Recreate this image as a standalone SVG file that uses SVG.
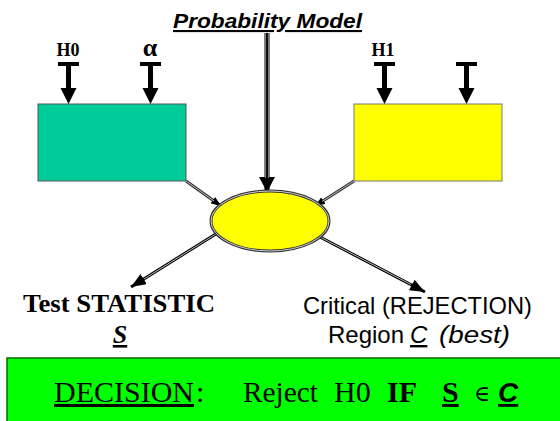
<svg xmlns="http://www.w3.org/2000/svg" width="560" height="421" viewBox="0 0 560 421">
<style>
.serif{font-family:"Liberation Serif","Times New Roman",serif}
.sans{font-family:"Liberation Sans",Arial,sans-serif}
.b{font-weight:bold}
.i{font-style:italic}
.u{text-decoration:underline}
.out{fill:none;stroke:#000;stroke-width:3}
.in{fill:none;stroke:#bbb;stroke-width:1}
.thin{fill:none;stroke:#333;stroke-width:3}
.tee{fill:#000}
</style>
<defs>
<marker id="ahS" markerUnits="userSpaceOnUse" markerWidth="10" markerHeight="8" refX="10" refY="4" orient="auto" viewBox="0 0 10 8"><path d="M0,0 L10,4 L0,8 z" fill="#000"/></marker>
<marker id="ahM" markerUnits="userSpaceOnUse" markerWidth="15" markerHeight="12" refX="15" refY="6" orient="auto" viewBox="0 0 15 12"><path d="M0,0 L15,6 L0,12 z" fill="#000"/></marker>
<marker id="ahL" markerUnits="userSpaceOnUse" markerWidth="15" markerHeight="16" refX="15" refY="8" orient="auto" viewBox="0 0 15 16"><path d="M0,0 L15,8 L0,16 z" fill="#000"/></marker>
</defs>

<g id="probability-model">
<text class="sans b i u" x="173" y="28" font-size="21" textLength="189" lengthAdjust="spacingAndGlyphs">Probability  Model</text>
</g>

<g id="h0-box">
<rect x="38" y="104" width="148" height="77" fill="#00CC99" stroke="#555" stroke-width="1"/>
</g>

<g id="h1-box">
<rect x="354" y="104" width="148" height="77" fill="#FFFF00" stroke="#777" stroke-width="1"/>
</g>

<g id="h0-input">
<text class="serif b" x="68" y="56" font-size="18" text-anchor="middle">H0</text>
<rect class="tee" x="58" y="62" width="21" height="4"/>
<rect class="tee" x="66" y="62" width="5" height="28"/>
<path class="tee" d="M60.5,88 L76.5,88 L68.5,104 z"/>
</g>

<g id="alpha-input">
<text class="serif b" x="150" y="56" font-size="26" text-anchor="middle">α</text>
<rect class="tee" x="140" y="62" width="21" height="4"/>
<rect class="tee" x="148" y="62" width="5" height="28"/>
<path class="tee" d="M142.5,88 L158.5,88 L150.5,104 z"/>
</g>

<g id="h1-input">
<text class="serif b" x="383" y="56" font-size="18" text-anchor="middle">H1</text>
<rect class="tee" x="374" y="62" width="21" height="4"/>
<rect class="tee" x="382" y="62" width="5" height="28"/>
<path class="tee" d="M376.5,88 L392.5,88 L384.5,104 z"/>
</g>

<g id="blank-input">
<rect class="tee" x="456" y="62" width="21" height="4"/>
<rect class="tee" x="464" y="62" width="5" height="28"/>
<path class="tee" d="M458.5,88 L474.5,88 L466.5,104 z"/>
</g>

<g id="connectors">
<line x1="267" y1="33" x2="267" y2="192" stroke="#000" stroke-width="5" marker-end="url(#ahL)"/>
<line x1="265.6" y1="33" x2="265.6" y2="178" stroke="#aaa" stroke-width="0.8"/>
<line x1="268.4" y1="33" x2="268.4" y2="178" stroke="#aaa" stroke-width="0.8"/>

<line class="thin" x1="186" y1="181" x2="221" y2="206" marker-end="url(#ahS)"/>
<line class="in" x1="186" y1="181" x2="214" y2="201"/>
<line class="thin" x1="354" y1="181" x2="315" y2="206" marker-end="url(#ahS)"/>
<line class="in" x1="354" y1="181" x2="322" y2="201.5"/>

<line class="out" x1="219" y1="232" x2="131" y2="287" marker-end="url(#ahM)"/>
<line class="in" x1="219" y1="232" x2="144" y2="279"/>
<line class="out" x1="320" y1="237" x2="425" y2="292" marker-end="url(#ahM)"/>
<line class="in" x1="320" y1="237" x2="411" y2="284.5"/>
</g>

<g id="statistic-node">
<ellipse cx="270" cy="221" rx="59" ry="30" fill="#FFFF00" stroke="#333" stroke-width="3"/>
<ellipse cx="270" cy="221" rx="59" ry="30" fill="none" stroke="#ccc" stroke-width="1"/>
</g>

<g id="test-statistic">
<text class="serif b" x="23" y="312" font-size="26" textLength="192" lengthAdjust="spacingAndGlyphs">Test STATISTIC</text>
<text class="serif b i u" x="120" y="343" font-size="26" text-anchor="middle">S</text>
</g>

<g id="critical-region">
<text class="sans" x="303" y="314" font-size="24" textLength="229" lengthAdjust="spacingAndGlyphs">Critical (REJECTION)</text>
<text class="sans" x="328" y="343" font-size="24">Region</text>
<text class="sans i u" x="410" y="343" font-size="24">C</text>
<text class="sans i" x="439" y="343" font-size="24" textLength="71" lengthAdjust="spacingAndGlyphs">(best)</text>
</g>

<g id="decision">
<rect x="7" y="358" width="560" height="70" fill="#00FF00" stroke="#006600" stroke-width="1.5"/>
<text class="serif u" x="54" y="402" font-size="30" textLength="140" lengthAdjust="spacingAndGlyphs">DECISION</text>
<text class="serif" x="196" y="402" font-size="30">:</text>
<text class="serif" x="243" y="402" font-size="30" textLength="75" lengthAdjust="spacingAndGlyphs">Reject</text>
<text class="serif" x="334" y="402" font-size="30">H0</text>
<text class="serif b" x="387" y="402" font-size="30">IF</text>
<text class="serif b u" x="442" y="402" font-size="30">S</text>
<text x="474" y="401" font-size="22" font-family="'DejaVu Serif',serif">∈</text>
<text class="sans b i u" x="498" y="402" font-size="28">C</text>
</g>
</svg>
